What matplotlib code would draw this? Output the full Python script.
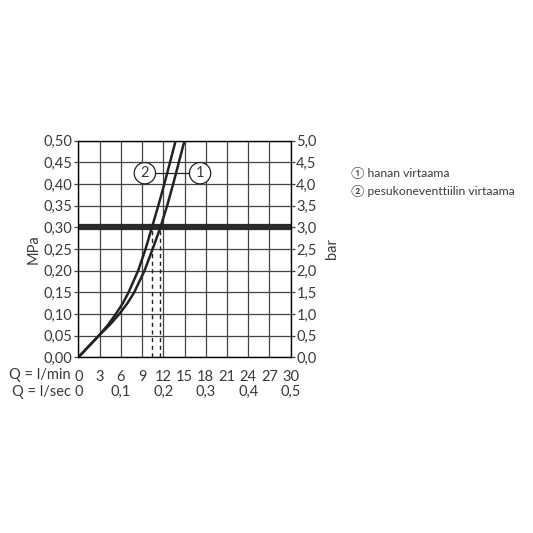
import matplotlib
matplotlib.use("Agg")
import matplotlib.pyplot as plt
import matplotlib.transforms as mtransforms
import numpy as np

plt.rcParams['font.family'] = ['Lato', 'DejaVu Sans']

# flow (l/min) vs pressure (MPa)
q_hanan = [0, 1.45, 2.9, 4.45, 5.8, 6.95, 7.9, 9.35, 10.5, 11.6, 12.55, 13.4, 14.2, 15.0]
p_hanan = [0, 0.025, 0.05, 0.075, 0.10, 0.125, 0.15, 0.20, 0.25, 0.30, 0.35, 0.40, 0.45, 0.50]
q_pesu = [0, 1.45, 2.9, 4.2, 5.3, 6.3, 7.1, 8.45, 9.5, 10.4, 11.3, 12.15, 12.95, 13.75]
p_pesu = [0, 0.025, 0.05, 0.075, 0.10, 0.125, 0.15, 0.20, 0.25, 0.30, 0.35, 0.40, 0.45, 0.50]
q_at_03 = [10.4, 11.6]

lmin_ticks = [0, 3, 6, 9, 12, 15, 18, 21, 24, 27, 30]
lsec_pos = [0, 6, 12, 18, 24, 30]
lsec_labels = ['0', '0,1', '0,2', '0,3', '0,4', '0,5']
mpa_ticks = [0, 0.05, 0.10, 0.15, 0.20, 0.25, 0.30, 0.35, 0.40, 0.45, 0.50]
legend_items = ['\u2460 hanan virtaama', '\u2461 pesukoneventtiilin virtaama']

txt = '#3a3a3a'
line = '#222222'
fs = 10.5

fig = plt.figure(figsize=(5.33, 5.33), dpi=100)
ax = fig.add_axes([78.3 / 533, 1 - 357.3 / 533, 212.4 / 533, 216.6 / 533])

ax.set_xlim(0, 30)
ax.set_ylim(0, 0.5)
ax.set_xticks(lmin_ticks)
ax.set_xticklabels([str(v) for v in lmin_ticks])
ax.set_yticks(mpa_ticks)
ax.yaxis.set_major_formatter(plt.FuncFormatter(lambda v, p: ('%.2f' % v).replace('.', ',')))
ax.grid(True, color='#444444', lw=0.9)
for s in ax.spines.values():
    s.set_color('#444444')
    s.set_linewidth(1.0)
ax.tick_params(axis='y', length=3, width=0.9, color='#444444', labelsize=fs, labelcolor=txt, pad=1)
ax.tick_params(axis='x', length=0, labelsize=fs, labelcolor=txt, pad=9)

ax2 = ax.twinx()
ax2.set_ylim(0, 5)
ax2.set_yticks(np.array(mpa_ticks) * 10)
ax2.yaxis.set_major_formatter(plt.FuncFormatter(lambda v, p: ('%.1f' % v).replace('.', ',')))
ax2.tick_params(axis='y', length=3, width=0.9, color='#444444', labelsize=fs, labelcolor=txt, pad=1)
ax2.set_ylabel('bar', fontsize=fs, color=txt, labelpad=6, rotation=90)

ax.set_ylabel('MPa', fontsize=fs, color=txt, labelpad=2)

ax.axhline(0.30, color='#2a2a2a', lw=4.5, zorder=4)
for q in q_at_03:
    ax.plot([q, q], [0, 0.30], color=line, lw=1.0, ls=(0, (3, 2.5)), zorder=3)

ax.plot(q_hanan, p_hanan, color=line, lw=1.8, zorder=5, solid_joinstyle='round')
ax.plot(q_pesu, p_pesu, color=line, lw=1.8, zorder=5, solid_joinstyle='round')

# circled labels
y_lab = 0.425
ax.plot([10.5, 16.0], [y_lab, y_lab], color=line, lw=0.9, zorder=5)
for x, t in [(9.4, '2'), (17.2, '1')]:
    ax.text(x, y_lab, t, ha='center', va='center', fontsize=fs, color=txt, zorder=6,
            bbox=dict(boxstyle='circle,pad=0.25', fc='white', ec=line, lw=0.9))

# second x row (l/sec)
trans = mtransforms.blended_transform_factory(ax.transData, fig.transFigure)
for x, t in zip(lsec_pos, lsec_labels):
    fig.text(x, 1 - 392 / 533, t, transform=trans, ha='center', va='center', fontsize=fs, color=txt)
fig.text(71 / 533, 1 - 375 / 533, 'Q = l/min', ha='right', va='center', fontsize=fs, color=txt)
fig.text(71 / 533, 1 - 392 / 533, 'Q = l/sec', ha='right', va='center', fontsize=fs, color=txt)

for i, t in enumerate(legend_items):
    fig.text(351 / 533, 1 - (173 + 18 * i) / 533, t, ha='left', va='center', fontsize=8.7, color=txt)

fig.savefig('out.png', dpi=100, facecolor='white')
